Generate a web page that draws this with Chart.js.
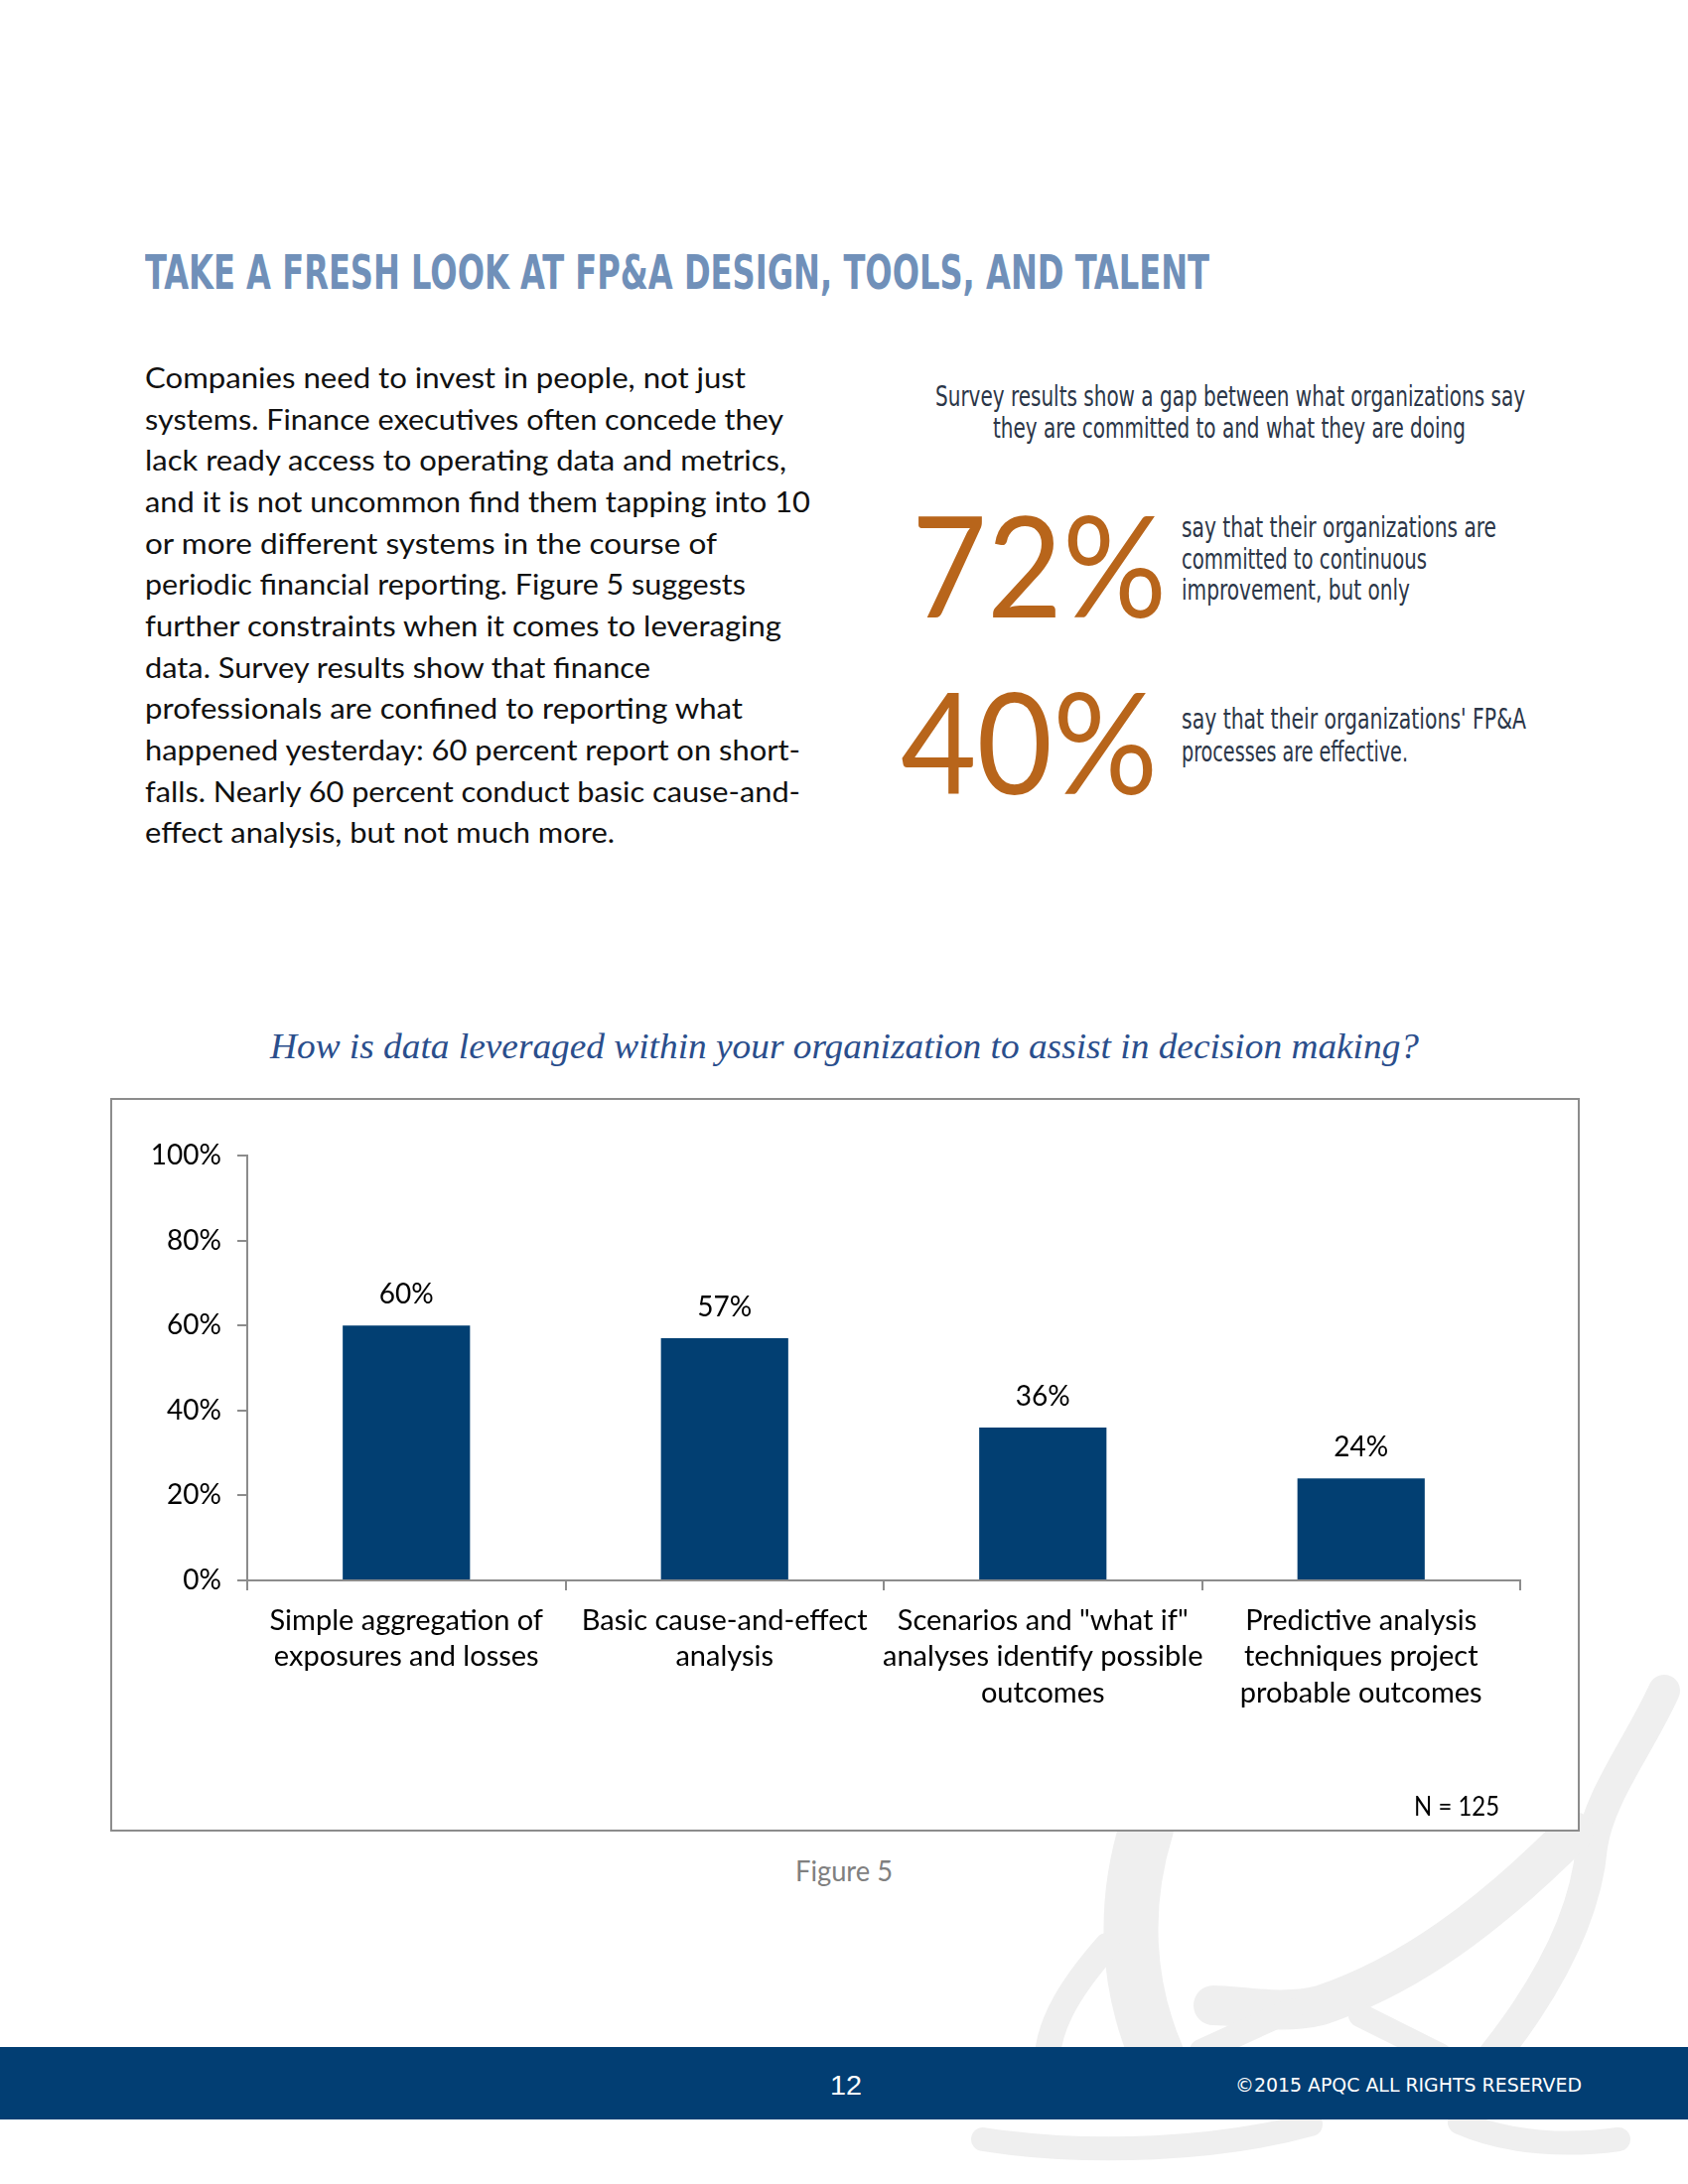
<!DOCTYPE html>
<html>
<head>
<meta charset="utf-8">
<script src="https://cdn.jsdelivr.net/npm/chart.js@4.4.1/dist/chart.umd.min.js"></script>
<style>
html, body { margin: 0; padding: 0; background: #fff; }
#page { position: relative; width: 1700px; height: 2200px; overflow: hidden; background: #fff; }
.t { position: absolute; white-space: nowrap; line-height: 1; transform-origin: 0 50%; }
.line { display: block; width: max-content; white-space: nowrap; transform-origin: 0 50%; }
.narrow { font-family: "Liberation Sans Narrow", "DejaVu Sans Condensed", sans-serif; }
#wm { position: absolute; left: 0; top: 0; z-index: 0; }
#chartBox { position: absolute; left: 111px; top: 1106px; width: 1476px; height: 735px; border: 2px solid #8c8c8c; background: #fff; z-index: 1; }
#chartWrap { position: absolute; left: 0; top: 0; width: 1476px; height: 735px; }
#footer { position: absolute; left: 0; top: 2062px; width: 1700px; height: 73px; background: #023e73; z-index: 2; }
</style>
</head>
<body>
<div id="page">

<!-- faint logo watermark behind the chart box -->
<svg id="wm" width="1700" height="2200" viewBox="0 0 1700 2200">
  <g fill="none" stroke="#efefef" stroke-linecap="round">
    <path d="M1676,1703 C1650,1760 1610,1810 1603,1860 C1597,1930 1560,2000 1505,2070" stroke-width="32"/>
    <path d="M1585,1845 C1500,1930 1420,1990 1330,2020 C1290,2030 1250,2020 1222,2020" stroke-width="40"/>
    <path d="M1155,1840 C1130,1920 1135,2000 1165,2070" stroke-width="55"/>
    <path d="M1115,1960 C1080,2000 1058,2035 1055,2070" stroke-width="26"/>
    <path d="M1210,2066 L1300,2025" stroke-width="24"/>
    <path d="M1370,2030 L1450,2070" stroke-width="24"/>
    <path d="M990,2155 C1100,2172 1230,2165 1320,2140" stroke-width="24"/>
    <path d="M1470,2138 C1520,2160 1580,2162 1630,2155" stroke-width="24"/>
  </g>
</svg>

<div class="t narrow" style="left:146px; top:250px; font-size:48px; font-weight:bold; color:#7090b9;" data-w="1072">TAKE A FRESH LOOK AT FP&amp;A DESIGN, TOOLS, AND TALENT</div>

<div class="t" style="left:146px; top:360px; font-family:Lato, sans-serif; font-size:28px; line-height:41.66px; color:#111;">
  <div class="line" data-w="605">Companies need to invest in people, not just</div>
  <div class="line" data-w="643">systems. Finance executives often concede they</div>
  <div class="line" data-w="646">lack ready access to operating data and metrics,</div>
  <div class="line" data-w="670">and it is not uncommon find them tapping into 10</div>
  <div class="line" data-w="576">or more different systems in the course of</div>
  <div class="line" data-w="605">periodic financial reporting. Figure 5 suggests</div>
  <div class="line" data-w="641">further constraints when it comes to leveraging</div>
  <div class="line" data-w="509">data. Survey results show that finance</div>
  <div class="line" data-w="602">professionals are confined to reporting what</div>
  <div class="line" data-w="660">happened yesterday: 60 percent report on short-</div>
  <div class="line" data-w="660">falls. Nearly 60 percent conduct basic cause-and-</div>
  <div class="line" data-w="473">effect analysis, but not much more.</div>
</div>

<div class="t narrow" style="left:942px; top:386px; font-size:28px; color:#2b3648;" data-w="594">Survey results show a gap between what organizations say</div>
<div class="t narrow" style="left:1000px; top:418px; font-size:28px; color:#2b3648;" data-w="476">they are committed to and what they are doing</div>

<div class="t" style="left:918px; top:496px; font-family:Lato, sans-serif; font-weight:400; font-size:142px; color:#b8651b;" data-w="257">72%</div>
<div class="t" style="left:907px; top:674px; font-family:Lato, sans-serif; font-weight:400; font-size:142px; color:#b8651b;" data-w="259">40%</div>

<div class="t narrow" style="left:1190px; top:517px; font-size:29px; color:#2b3648;" data-w="317">say that their organizations are</div>
<div class="t narrow" style="left:1190px; top:549px; font-size:29px; color:#2b3648;" data-w="247">committed to continuous</div>
<div class="t narrow" style="left:1190px; top:580px; font-size:29px; color:#2b3648;" data-w="230">improvement, but only</div>
<div class="t narrow" style="left:1190px; top:710px; font-size:29px; color:#2b3648;" data-w="347">say that their organizations' FP&amp;A</div>
<div class="t narrow" style="left:1190px; top:743px; font-size:29px; color:#2b3648;" data-w="228">processes are effective.</div>

<div class="t" style="left:272px; top:1036px; font-family:'Liberation Serif', serif; font-style:italic; font-size:36px; color:#2a4e8c;" data-w="1157">How is data leveraged within your organization to assist in decision making?</div>

<div id="chartBox"><div id="chartWrap"><canvas id="barChart"></canvas></div></div>

<div class="t" style="left:1424px; top:1806px; font-family:Lato, sans-serif; font-size:26px; color:#000; z-index:3;" data-w="86">N = 125</div>

<div class="t" style="left:801px; top:1870px; font-family:Lato, sans-serif; font-size:28px; color:#808080;" data-w="98">Figure 5</div>

<div id="footer"></div>
<div class="t" style="left:836px; top:2087px; font-family:'Liberation Sans', sans-serif; font-size:28px; color:#fff; z-index:3;" data-w="32">12</div>
<div class="t narrow" style="left:1244px; top:2090px; font-size:20px; color:#fff; z-index:3;" data-w="349">©2015 APQC ALL RIGHTS RESERVED</div>

</div>

<script>
var categories = [
    ["Simple aggregation of", "exposures and losses"],
    ["Basic cause-and-effect", "analysis"],
    ["Scenarios and \"what if\"", "analyses identify possible", "outcomes"],
    ["Predictive analysis", "techniques project", "probable outcomes"]
];
var values = [60, 57, 36, 24];
var yMax = 100;
var yStep = 20;

var barColor = "#023f72";
var axisColor = "#8c8c8c";

// stretch text blocks to the widths seen in the original
document.querySelectorAll("[data-w]").forEach(function (el) {
    var w = el.getBoundingClientRect().width;
    if (w > 0) {
        el.style.transform = "scaleX(" + (parseFloat(el.dataset.w) / w) + ")";
    }
});

// percent labels above the bars
var valueLabels = {
    id: "valueLabels",
    afterDatasetsDraw: function (chart) {
        var ctx = chart.ctx;
        var meta = chart.getDatasetMeta(0);
        ctx.save();
        ctx.font = "28px Lato";
        ctx.fillStyle = "#000";
        ctx.textAlign = "center";
        ctx.textBaseline = "alphabetic";
        meta.data.forEach(function (bar, i) {
            ctx.fillText(values[i] + "%", bar.x, bar.y - 22);
        });
        ctx.restore();
    }
};

var ctx = document.getElementById("barChart").getContext("2d");
var barChart = new Chart(ctx, {
    type: "bar",
    data: {
        labels: categories,
        datasets: [{
            data: values,
            backgroundColor: barColor,
            barPercentage: 0.4,
            categoryPercentage: 1.0
        }]
    },
    options: {
        responsive: true,
        maintainAspectRatio: false,
        animation: false,
        layout: { padding: { top: 56, right: 58, left: 1, bottom: 0 } },
        plugins: {
            legend: { display: false },
            tooltip: { enabled: false }
        },
        scales: {
            x: {
                grid: { offset: true, drawOnChartArea: false, drawTicks: true, tickLength: 10, color: axisColor, lineWidth: 2 },
                border: { color: axisColor, width: 2 },
                ticks: {
                    color: "#000",
                    font: { family: "Lato", size: 29, lineHeight: 1.26 },
                    padding: 12,
                    maxRotation: 0,
                    autoSkip: false
                },
                afterFit: function (scale) { scale.height = 251; }
            },
            y: {
                min: 0,
                max: yMax,
                ticks: {
                    stepSize: yStep,
                    color: "#000",
                    font: { family: "Lato", size: 28 },
                    padding: 16,
                    callback: function (v) { return v + "%"; }
                },
                grid: { drawOnChartArea: false, tickLength: 10, color: axisColor, lineWidth: 2 },
                border: { color: axisColor, width: 2 },
                afterFit: function (scale) { scale.width = 135; }
            }
        }
    },
    plugins: [valueLabels]
});
</script>
</body>
</html>
